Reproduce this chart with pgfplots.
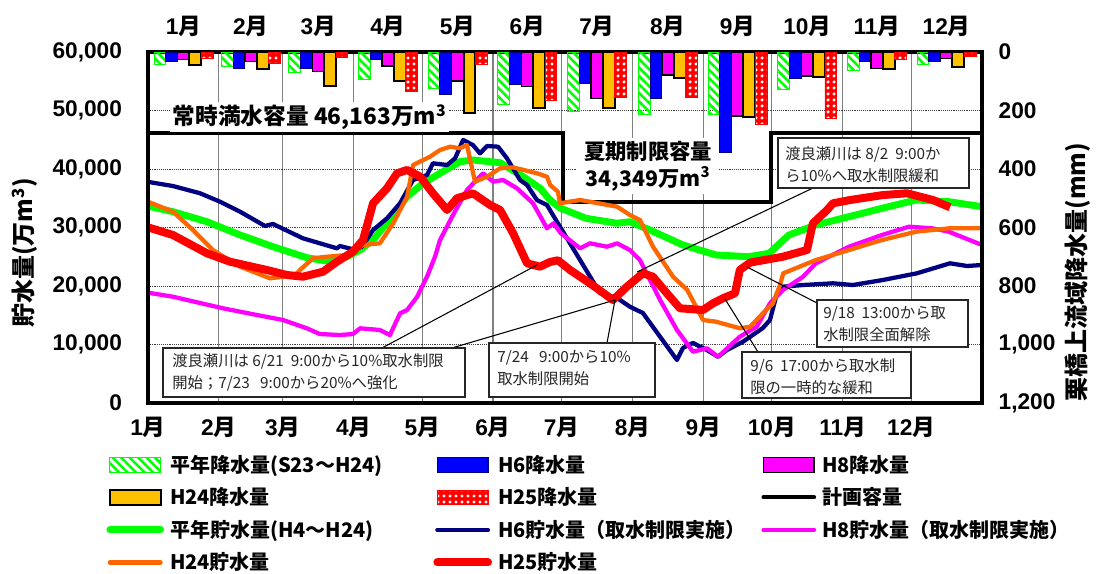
\documentclass[border=0pt]{standalone}
\usepackage{pgfplots}
\pgfplotsset{compat=1.18}
\usepackage{fontspec}
\setmainfont{Liberation Sans}
\newfontfamily\jp{Noto Sans CJK JP}
\usetikzlibrary{patterns,patterns.meta}

\definecolor{limeg}{RGB}{0,255,0}
\definecolor{navyline}{RGB}{0,0,128}
\definecolor{orangeline}{RGB}{255,102,0}
\definecolor{barorange}{RGB}{255,192,0}
\definecolor{barblue}{RGB}{0,0,255}
\definecolor{mag}{RGB}{255,0,255}

\pgfplotsset{
  barleg/.style={legend image code/.code={\draw[##1] (0pt,-5.5pt) rectangle (38pt,5.5pt);}},
  lineleg/.style={legend image code/.code={\draw[##1, line cap=round] (0pt,0pt) -- (38pt,0pt);}},
  hatchbar/.style={draw=limeg, line width=0.6pt, pattern={Lines[angle=-45,distance=4.5pt,line width=1.9pt]}, pattern color=limeg},
  bluebar/.style={fill=barblue, draw=navyline, line width=0.8pt},
  magbar/.style={fill=mag, draw=black, line width=1pt},
  orabar/.style={fill=barorange, draw=black, line width=1.5pt},
  redbar/.style={fill=red, draw=red, line width=0.6pt, postaction={pattern={Dots[distance=4.5pt,radius=1.3pt]}, pattern color=white}},
}

\newcommand{\W}[1]{\makebox[196pt][l]{#1}}

\begin{document}
\begin{tikzpicture}[x=0.75pt,y=-0.75pt]
\useasboundingbox (0,0) rectangle (1096,574);
\coordinate (C) at (565,227.5);

% storage (left axis)
\begin{axis}[
  at={(C)}, anchor=center, scale only axis,
  width=625.5pt, height=263.25pt,
  xmin=0, xmax=365, ymin=0, ymax=60000,
  xtick={0,31,59,90,120,151,181,212,243,273,304,334},
  xticklabels={1{\jp 月},2{\jp 月},3{\jp 月},4{\jp 月},5{\jp 月},6{\jp 月},7{\jp 月},8{\jp 月},9{\jp 月},10{\jp 月},11{\jp 月},12{\jp 月}},
  xticklabel pos=left, yticklabel pos=left,
  ytick={0,10000,...,60000}, scaled y ticks=false,
  yticklabel style={/pgf/number format/fixed, /pgf/number format/1000 sep={,}, /pgf/number format/assume math mode=true},
  tick label style={font=\bfseries\fontsize{17}{20}\selectfont},
  xticklabel shift=7pt, yticklabel shift=16pt,
  major tick length=0pt,
  grid=major,
  x grid style={black!50, line width=0.8pt},
  y grid style={black!75, densely dotted, line width=0.6pt},
  axis line style={line width=2.5pt},
  legend columns=3,
  legend cell align=left,
  legend style={at={(axis description cs:-0.055,-0.135)}, anchor=north west, draw=none, fill=none,
    font=\jp\bfseries\fontsize{15}{18}\selectfont, nodes={inner sep=1.5pt},
    /tikz/every odd column/.append style={column sep=3pt},
    row sep=7pt},
]
\addlegendimage{barleg, hatchbar}
\addlegendimage{barleg, bluebar}
\addlegendimage{barleg, magbar}
\addlegendimage{barleg, orabar}
\addlegendimage{barleg, redbar}

\addplot[lineleg, black, line width=3pt] coordinates {(0,46163) (181.5,46163) (181.5,34349) (272.5,34349) (272.5,46163) (365,46163)};

\addplot[lineleg, limeg, line width=5.2pt, line join=round] coordinates {(0,33680)(10.9,32700)(25.8,30990)(40.3,28720)(54.7,26720)(69.5,24840)(78.3,24270)(87.1,25010)(92.8,26150)(98.5,27860)(107.3,32140)(113.4,35270)(120.4,37560)(127.8,39270)(136.5,41250)(142.2,41540)(154.1,41080)(164.2,38690)(171.6,36700)(176,34700)(180.3,33340)(191.7,31570)(205.3,30720)(210.9,30990)(219.7,29570)(234.1,27010)(248.6,25300)(263,25010)(271.8,25590)(280.5,28720)(292.3,30430)(306.8,31850)(321.2,33280)(336.1,34700)(350.5,34410)(365,33560)};

\addplot[lineleg, navyline, line width=3.2pt, line join=round] coordinates {(0,37800)(10.9,37090)(22.8,35850)(31.5,34410)(40.3,32700)(51.2,30260)(54.7,30600)(67.8,28150)(82.7,26440)(84,26840)(89.7,26270)(93.7,26730)(98.5,29570)(104.6,31570)(110.3,34140)(116,38120)(122.1,38970)(124.7,40970)(130.9,40680)(134.4,41830)(137.9,44960)(142.2,44100)(145.3,42680)(148.4,43930)(153.2,43810)(157.1,41830)(162.8,38120)(165.9,37260)(170.2,34700)(174.6,33850)(179.4,30720)(189.1,24440)(197.8,18800)(205.3,17950)(210.9,16460)(216.6,15380)(224.1,11330)(231.5,7350)(234.1,9400)(238.5,10260)(244.6,9060)(249.5,7910)(253.4,9060)(260.4,10480)(269.1,12820)(272.2,14190)(275.3,18800)(277.9,19880)(286.7,20170)(299.8,20460)(308.5,20170)(321.7,21030)(336.5,22170)(351,23880)(358.4,23420)(365,23590)};

\addplot[lineleg, mag, line width=3.2pt, line join=round] coordinates {(0,18860)(10.9,18170)(18.4,17490)(32.8,16190)(47.7,15040)(59.1,14190)(69.5,12770)(75.2,11790)(84,11620)(89.7,11790)(92.8,12770)(101.5,12480)(105.9,11620)(110.3,15330)(113.4,15900)(117.8,18170)(122.1,21590)(125.6,25000)(127.8,27860)(133.5,32140)(139.6,36410)(146.6,39270)(151,37830)(155.4,38120)(161.5,36700)(168.5,34140)(174.6,29860)(177.5,30720)(180.7,29010)(189.1,26440)(193.4,27300)(200.9,26720)(205.3,27300)(210.9,26150)(215.3,24440)(224.1,17610)(231.5,12480)(238.5,8770)(244.6,9350)(249.5,7910)(259,11330)(266.4,13040)(272.2,17040)(277.9,19320)(286.7,21590)(292.3,23880)(306.8,26720)(321.2,28720)(333.1,30140)(343.2,29860)(350.5,29280)(365,27010)};

\addplot[lineleg, orangeline, line width=3.2pt, line join=round] coordinates {(0,34410)(10.9,32700)(19.7,29570)(28.4,26150)(40.3,23300)(53.4,21310)(59.1,21590)(65.2,22170)(66.5,22740)(72.2,24740)(78.3,25010)(87.1,25300)(94.1,27010)(101.5,27300)(107.3,30720)(113.4,35270)(116,40680)(123.4,42100)(127.8,43250)(132.2,43810)(136.5,43540)(139.6,44100)(143.1,37830)(148.4,38690)(154.1,40120)(159.8,40280)(170.2,39270)(174.6,38690)(176,37260)(179.4,36120)(180.3,34140)(189.1,34700)(205.3,33560)(210.9,32140)(215.3,31280)(221,26720)(229.8,21590)(236,19320)(242.9,14190)(248.6,13900)(259,12770)(263.5,13040)(269.1,15330)(273.5,17040)(276.6,20170)(278,22170)(292.3,24440)(306.8,26150)(321.2,27860)(336.1,29280)(350.5,29860)(365,29860)};

\addplot[lineleg, red, line width=6pt, line join=round] coordinates {(0,30030)(10.9,28720)(25.8,25590)(35.9,24150)(52,22740)(60.8,21880)(67.8,21590)(76.6,22440)(82.7,24150)(89.7,25870)(94.1,27860)(98.5,34140)(104.6,36700)(109,39270)(113.4,39830)(119.1,38690)(124.7,35850)(130.9,32990)(135.2,34990)(142.2,35850)(149.7,33850)(154.1,32990)(159.8,29010)(165.9,23880)(171.6,23300)(175.9,24100)(179.4,24400)(184.7,22740)(193.4,20460)(203.5,17610)(209.6,19880)(216.6,22170)(221,21590)(227.1,18750)(232.8,16190)(242.9,15900)(247.3,17040)(251.6,17900)(256.9,18750)(259,22740)(263.5,24000)(277.9,25010)(288.4,26150)(291,30720)(297.2,32990)(299.8,34140)(307.3,34700)(321.7,35550)(332.2,35850)(343.5,34700)(351,33450)};

\legend{\W{平年降水量(S23～H24)},\W{H6降水量},\W{H8降水量},\W{H24降水量},\W{H25降水量},\W{計画容量},\W{平年貯水量(H4～H24)},\W{H6貯水量（取水制限実施）},\W{H8貯水量（取水制限実施）},\W{H24貯水量},\W{H25貯水量}}
\end{axis}

% rainfall (right axis, reversed)
\begin{axis}[
  at={(C)}, anchor=center, scale only axis,
  width=625.5pt, height=263.25pt,
  xmin=0, xmax=365, ymin=0, ymax=1200, y dir=reverse,
  xtick={15.5,45,74.5,105,135.5,166,196.5,227.5,258,288.5,319,349.5},
  xticklabels={1{\jp 月},2{\jp 月},3{\jp 月},4{\jp 月},5{\jp 月},6{\jp 月},7{\jp 月},8{\jp 月},9{\jp 月},10{\jp 月},11{\jp 月},12{\jp 月}},
  xticklabel pos=right, yticklabel pos=right,
  ytick={0,200,...,1200},
  yticklabel style={/pgf/number format/fixed, /pgf/number format/1000 sep={,}, /pgf/number format/assume math mode=true},
  tick label style={font=\bfseries\fontsize{17}{20}\selectfont},
  xticklabel shift=8pt, yticklabel shift=9pt,
  major tick length=0pt,
  axis line style={line width=2.5pt},
]
\addplot[ybar, bar width=8.85pt, bar shift=-17.7pt, hatchbar] coordinates {(15.5,44)(45,50)(74.5,71)(105,93)(135.5,124)(166,178)(196.5,204)(227.5,212)(258,215)(288.5,128)(319,64)(349.5,44)};
\addplot[ybar, bar width=8.85pt, bar shift=-8.85pt, bluebar] coordinates {(15.5,31)(45,56)(74.5,56)(105,25)(135.5,145)(166,110)(196.5,107)(227.5,158)(258,345)(288.5,90)(319,31)(349.5,34)};
\addplot[ybar, bar width=8.85pt, bar shift=0pt, magbar] coordinates {(15.5,25)(45,33)(74.5,67)(105,48)(135.5,99)(166,119)(196.5,158)(227.5,79)(258,219)(288.5,82)(319,56)(349.5,22)};
\addplot[ybar, bar width=8.85pt, bar shift=8.85pt, orabar] coordinates {(15.5,44)(45,58)(74.5,116)(105,99)(135.5,207)(166,193)(196.5,193)(227.5,88)(258,221)(288.5,87)(319,58)(349.5,50)};
\addplot[ybar, bar width=8.85pt, bar shift=17.7pt, redbar] coordinates {(15.5,21)(45,39)(74.5,19)(105,136)(135.5,44)(166,164)(196.5,155)(227.5,155)(258,246)(288.5,227)(319,24)(349.5,14)};
\end{axis}

% axis titles
\node[rotate=90, font=\jp\bfseries\fontsize{18}{20}\selectfont] at (25,253) {貯水量(万m\textsuperscript{3})};
\node[rotate=90, font=\jp\bfseries\fontsize{18}{20}\selectfont] at (1078,272) {栗橋上流域降水量(mm)};

% capacity labels
\node[anchor=west, fill=white, inner sep=2pt, font=\jp\bfseries\fontsize{17}{20}\selectfont] at (170,117) {常時満水容量 46,163万m\textsuperscript{3}};
\node[fill=white, align=center, inner xsep=5pt, inner ysep=2pt, font=\jp\bfseries\fontsize{16}{20}\selectfont] at (648,166) {夏期制限容量\\34,349万m\textsuperscript{3}};

% annotations
\begin{scope}[line width=0.8pt]
\draw (382,348) -- (537,265);
\draw (445,350) -- (615,300);
\draw (607,343) -- (615,300);
\draw (813,188) -- (637,272);
\draw (817,303) -- (747,267);
\draw (758,352) -- (725,299);
\end{scope}
\begin{scope}[every node/.style={anchor=north west, align=left, inner sep=0pt, text=black!85, font=\jp\fontsize{11.5}{16.5}\selectfont}]
\draw[fill=white, draw=black!85, line width=0.9pt] (163,348) rectangle (465,397);
\node at (172,353) {渡良瀬川は 6/21\ \ 9:00から10\%取水制限\\開始；7/23\ \ \ 9:00から20\%へ強化};
\draw[fill=white, draw=black!85, line width=0.9pt] (489,343) rectangle (655,397);
\node at (497,350) {7/24\ \ \ 9:00から10\%\\取水制限開始};
\draw[fill=white, draw=black!85, line width=0.9pt] (778,138) rectangle (969,188);
\node at (785,146) {渡良瀬川は 8/2\ \ 9:00か\\ら10\%へ取水制限緩和};
\draw[fill=white, draw=black!85, line width=0.9pt] (817,300) rectangle (968,347);
\node at (823,306) {9/18\ \ 13:00から取\\水制限全面解除};
\draw[fill=white, draw=black!85, line width=0.9pt] (742,352) rectangle (911,398);
\node at (750,358) {9/6\ \ 17:00から取水制\\限の一時的な緩和};
\end{scope}
\end{tikzpicture}
\end{document}
